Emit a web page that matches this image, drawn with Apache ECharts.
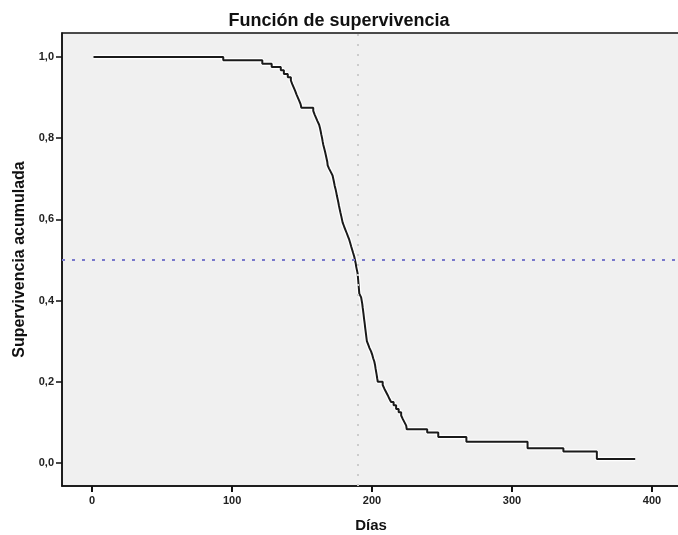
<!DOCTYPE html>
<html>
<head>
<meta charset="utf-8">
<script src="https://cdn.jsdelivr.net/npm/echarts@6/dist/echarts.min.js"></script>
<style>html,body{margin:0;padding:0;background:#fff}#c{width:678px;height:535px}</style>
</head>
<body>
<div id="c"></div>
<script>
const titleText = 'Función de supervivencia';
const xName = 'Días';
const yName = 'Supervivencia acumulada';
const xTicks = [0, 100, 200, 300, 400];
const yTicks = [0, 0.2, 0.4, 0.6, 0.8, 1.0];
const medianDay = 190;
const halfLevel = 0.5;

const days = [1, 93.7, 121.6, 128.3, 134.8, 137, 139.8, 142, 143, 144, 145, 146, 147, 148, 149, 149.5,
  158, 159, 160, 161, 162.2, 162.8, 163.3, 163.8, 164.3, 164.7, 165.2, 165.8, 166.4, 167, 167.5, 168, 168.3,
  169.3, 170.5, 171.8, 172.3, 172.8, 173.3, 173.9, 174.4, 174.9, 175.4, 175.9, 176.4, 176.9, 177.4, 178, 178.5, 179,
  180, 180.9, 181.8, 182.8, 183.7, 184.4, 185.1, 185.8, 186.5, 187.3, 187.8, 188.3, 188.7, 189.2, 189.7,
  189.9, 190.1, 190.3, 190.5, 190.7, 190.9, 192.2, 192.6, 193, 193.3, 193.6, 193.9, 194.2, 194.5, 194.8,
  195.1, 195.4, 195.7, 196, 196.3, 197.2, 198.2, 199.3, 200.1, 200.8, 201.6, 202.1, 202.5, 202.9, 203.3, 203.7, 204.1,
  207.6, 208.8, 210, 211.2, 212.4, 213.6, 215.4, 217.2, 219, 220.8, 222, 223.2, 224.4, 224.8,
  239.4, 247.3, 267.4, 311.1, 336.7, 360.6, 388];
const surv = [1.0, 0.992, 0.983, 0.975, 0.967, 0.958, 0.95, 0.942, 0.933, 0.925, 0.917, 0.908, 0.9, 0.892, 0.883, 0.875,
  0.867, 0.858, 0.85, 0.842, 0.833, 0.825, 0.817, 0.808, 0.8, 0.792, 0.783, 0.775, 0.767, 0.758, 0.75, 0.742, 0.733,
  0.725, 0.717, 0.708, 0.7, 0.692, 0.683, 0.675, 0.667, 0.658, 0.65, 0.642, 0.633, 0.625, 0.617, 0.608, 0.6, 0.592,
  0.583, 0.575, 0.567, 0.558, 0.55, 0.542, 0.533, 0.525, 0.517, 0.508, 0.5, 0.492, 0.483, 0.475, 0.467,
  0.458, 0.45, 0.442, 0.433, 0.425, 0.417, 0.408, 0.4, 0.392, 0.383, 0.375, 0.367, 0.358, 0.35, 0.342,
  0.333, 0.325, 0.317, 0.308, 0.3, 0.292, 0.283, 0.275, 0.267, 0.258, 0.25, 0.242, 0.233, 0.225, 0.217, 0.208, 0.2,
  0.192, 0.183, 0.175, 0.167, 0.158, 0.15, 0.142, 0.133, 0.125, 0.117, 0.108, 0.1, 0.092, 0.083,
  0.075, 0.064, 0.052, 0.036, 0.028, 0.01, 0.01];

const pts = days.map((d, i) => [d, surv[i]]);
const font = "'Liberation Sans', Arial, sans-serif";

const chart = echarts.init(document.getElementById('c'), null, {renderer: 'canvas'});
chart.setOption({
  animation: false,
  backgroundColor: '#ffffff',
  title: {
    text: titleText, left: 'center', top: 7,
    textStyle: {fontFamily: font, fontSize: 18, fontWeight: 'bold', color: '#111'}
  },
  grid: {
    left: 62, top: 33, right: -2, bottom: 49,
    outerBoundsMode: 'none', containLabel: false,
    show: true, backgroundColor: '#f0f0f0', borderColor: '#111', borderWidth: 1.5
  },
  xAxis: {
    type: 'value', min: -21.5, max: 420,
    name: xName, nameLocation: 'middle', nameGap: 32,
    nameTextStyle: {fontFamily: font, fontSize: 15, fontWeight: 'bold', color: '#111'},
    axisLine: {show: true, onZero: false, lineStyle: {color: '#111', width: 1.5}},
    axisTick: {show: true, customValues: xTicks, length: 6, lineStyle: {color: '#111', width: 2}},
    axisLabel: {customValues: xTicks, fontFamily: font, fontSize: 11, fontWeight: 'bold', color: '#222', margin: 9,
      formatter: v => String(v)},
    splitLine: {show: false}
  },
  yAxis: {
    type: 'value', min: -0.0567, max: 1.059,
    name: yName, nameLocation: 'middle', nameGap: 34, nameRotate: 90,
    nameTextStyle: {fontFamily: font, fontSize: 16, fontWeight: 'bold', color: '#111'},
    axisLine: {show: true, onZero: false, lineStyle: {color: '#111', width: 1.5}},
    axisTick: {show: true, customValues: yTicks, length: 6, lineStyle: {color: '#111', width: 1.5}},
    axisLabel: {customValues: yTicks, fontFamily: font, fontSize: 11, fontWeight: 'bold', color: '#222', margin: 8,
      formatter: v => v.toFixed(1).replace('.', ',')},
    splitLine: {show: false}
  },
  series: [
    {
      type: 'line', data: pts, step: 'end', symbol: 'none', silent: true,
      lineStyle: {color: '#ffffff', width: 4.5}, z: 2
    },
    {
      type: 'line', data: pts, step: 'end', symbol: 'none',
      lineStyle: {color: '#1a1a1a', width: 2}, z: 3,
      markLine: {
        silent: true, symbol: 'none', label: {show: false},
        data: [
          {yAxis: halfLevel, lineStyle: {color: '#7878cc', width: 2, type: [3, 7]}},
          {xAxis: medianDay, lineStyle: {color: '#cccccc', width: 2, type: [2, 8]}}
        ]
      }
    }
  ]
});
</script>
</body>
</html>
